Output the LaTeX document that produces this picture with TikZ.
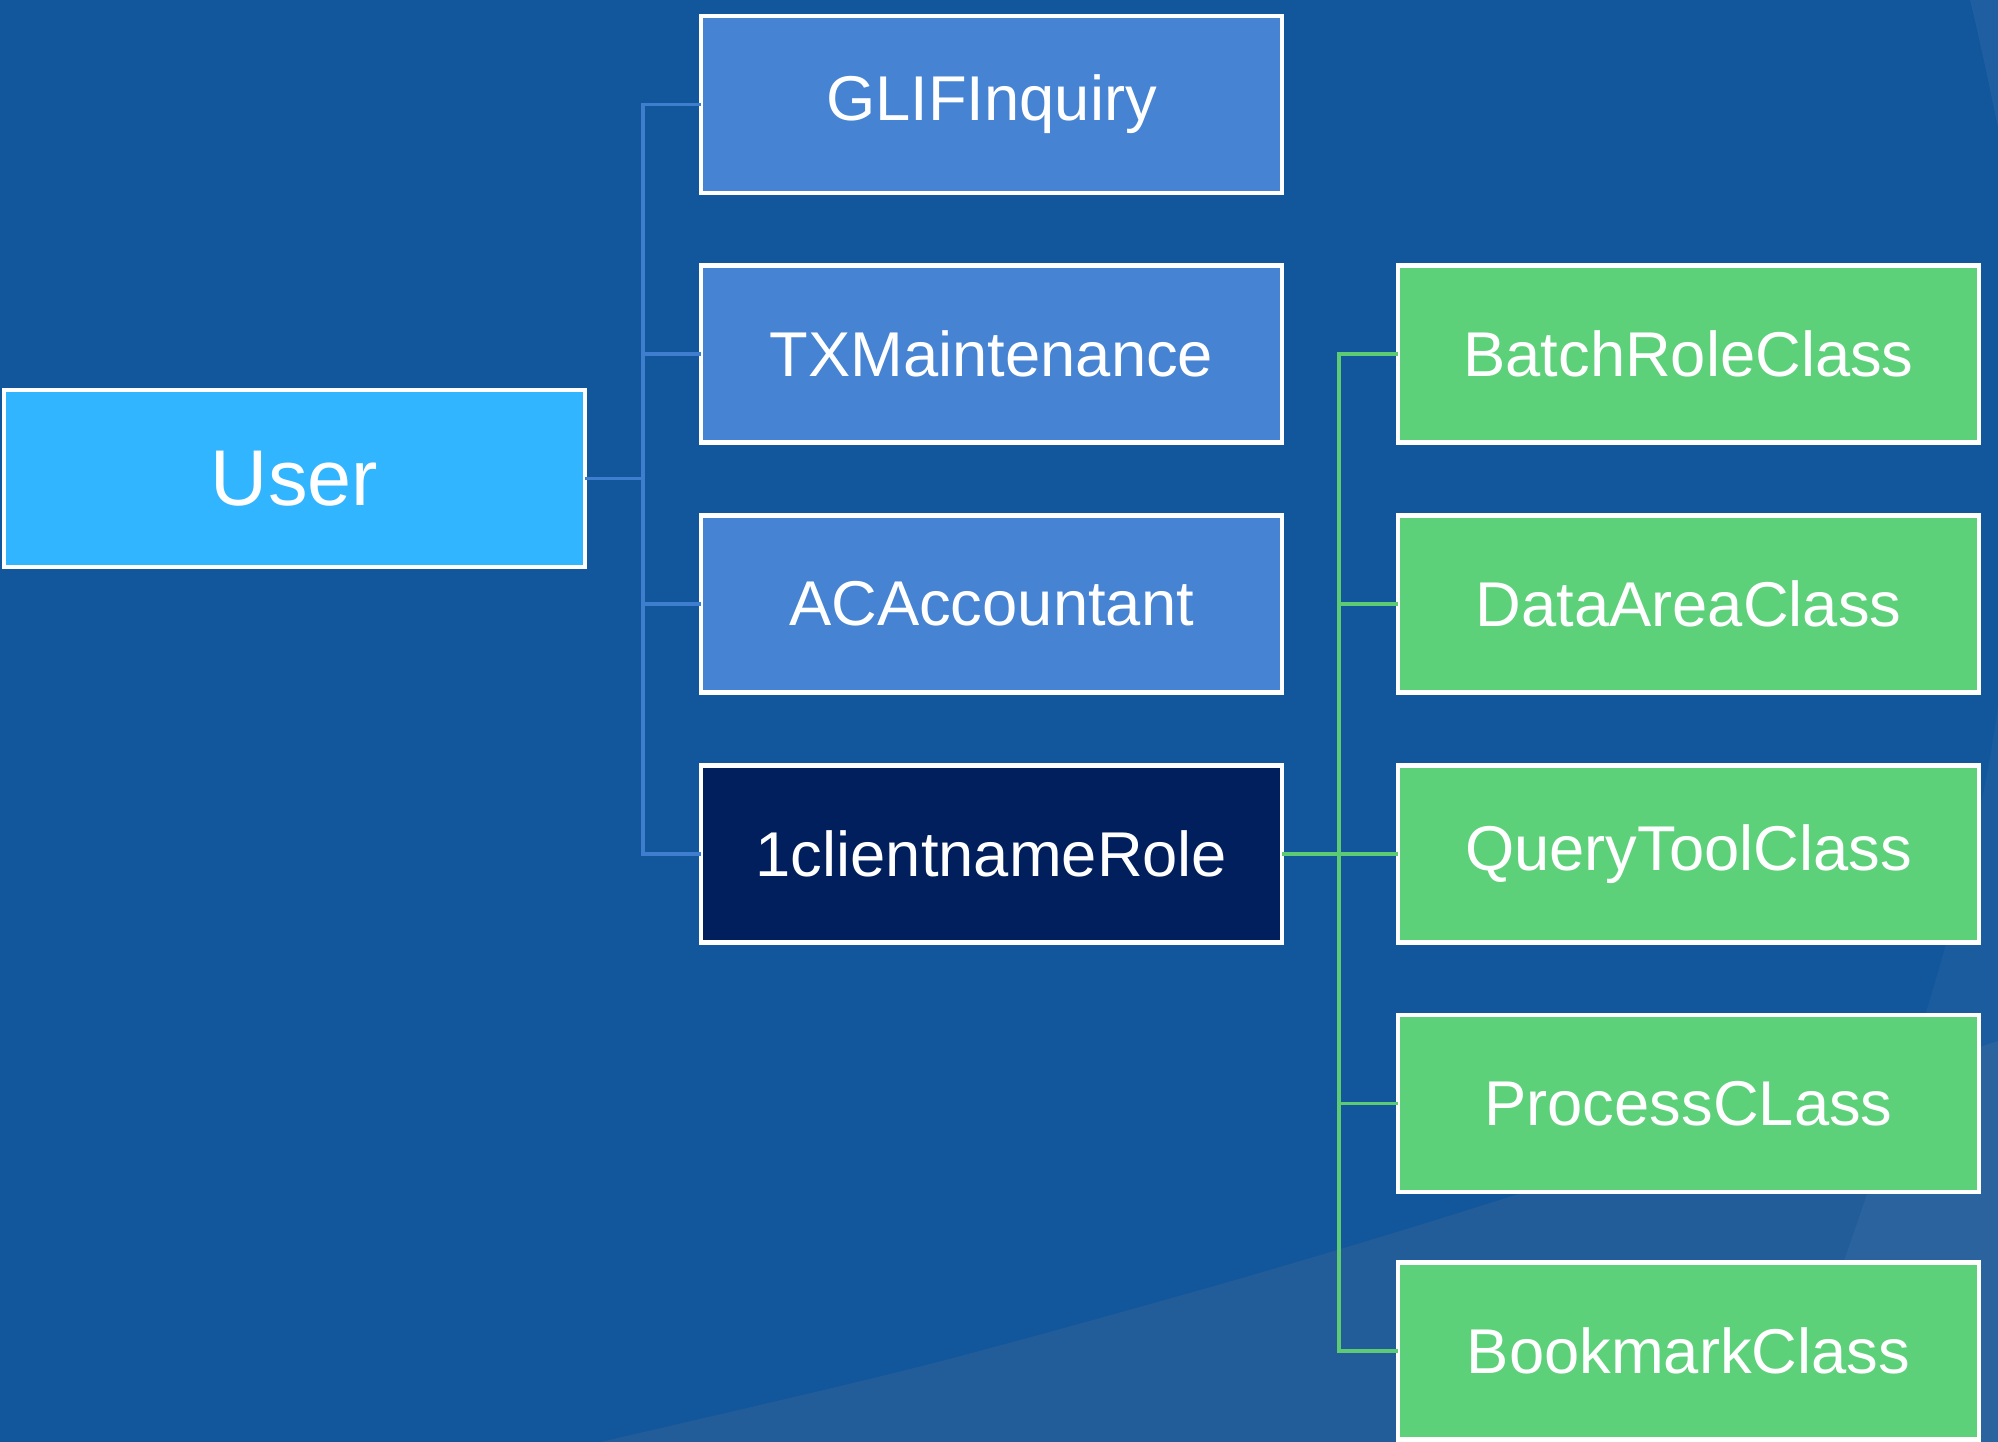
\documentclass[tikz,border=0pt]{standalone}
\usepackage{fontspec}
\setmainfont{Liberation Sans}
\definecolor{bgblue}{HTML}{12569C}
\definecolor{bglight}{HTML}{225D99}
\definecolor{userfill}{HTML}{31B5FE}
\definecolor{rolefill}{HTML}{4683D2}
\definecolor{darkfill}{HTML}{001F5C}
\definecolor{classfill}{HTML}{5DD07A}
\definecolor{blueline}{HTML}{3F7ECF}
\definecolor{greenline}{HTML}{5CCB74}
\tikzset{
  basebox/.style={draw=white, line width=1.2pt, minimum width=5.81cm, minimum height=1.77cm,
    inner sep=0pt, outer sep=0pt, text=white, font=\fontsize{18}{21}\selectfont},
  userbox/.style={basebox, fill=userfill, font=\fontsize{22.5}{26}\selectfont},
  rolebox/.style={basebox, fill=rolefill},
  darkbox/.style={basebox, fill=darkfill},
  classbox/.style={basebox, fill=classfill},
  blueconn/.style={draw=blueline, line width=0.9pt},
  greenconn/.style={draw=greenline, line width=0.9pt}
}
\begin{document}
\begin{tikzpicture}[x=0.01cm,y=-0.01cm]
\useasboundingbox (0,0) rectangle (1998,1441);
\begin{scope}
\clip (-10,-10) rectangle (2008,1451);
\fill[bgblue] (-10,-10) rectangle (2008,1451);
\fill[bglight] plot[smooth] coordinates {(560,1451) (605,1441) (918,1367) (1200,1290) (1400,1231) (1600,1168) (1998,1041) (2008,1037)} -- (2008,1451) -- cycle;
\fill[white, opacity=0.04] (1998,706) .. controls (1975,880) and (1900,1110) .. (1776,1451) -- (2008,1451) -- (2008,706) -- cycle;
\fill[white, opacity=0.06] (1970,-10) -- (1970,0) .. controls (1980,40) and (1990,90) .. (1998,127) -- (2008,160) -- (2008,-10) -- cycle;
\end{scope}

\node[userbox] (user) at (294.5,478.5) {User};
\node[rolebox] (glif) at (991.5,104.5) {GLIFInquiry};
\node[rolebox] (tx) at (991.5,354) {TXMaintenance};
\node[rolebox] (ac) at (991.5,604) {ACAccountant};
\node[darkbox] (role) at (991.5,854) {1clientnameRole};
\node[classbox] (batch) at (1688.5,354) {BatchRoleClass};
\node[classbox] (data) at (1688.5,604) {DataAreaClass};
\node[classbox] (query) at (1688.5,854) {QueryToolClass};
\node[classbox] (proc) at (1688.5,1103.5) {ProcessCLass};
\node[classbox] (book) at (1688.5,1351) {BookmarkClass};

\coordinate (bj) at (643,478.5);
\coordinate (gj) at (1339,854);

\draw[blueconn] (user.east) -- (bj);
\draw[blueconn] (glif.west) -| (bj);
\draw[blueconn] (tx.west) -| (bj);
\draw[blueconn] (ac.west) -| (bj);
\draw[blueconn] (role.west) -| (bj);

\draw[greenconn] (role.east) -- (gj);
\draw[greenconn] (batch.west) -| (gj);
\draw[greenconn] (data.west) -| (gj);
\draw[greenconn] (query.west) -- (gj);
\draw[greenconn] (proc.west) -| (gj);
\draw[greenconn] (book.west) -| (gj);
\end{tikzpicture}
\end{document}
